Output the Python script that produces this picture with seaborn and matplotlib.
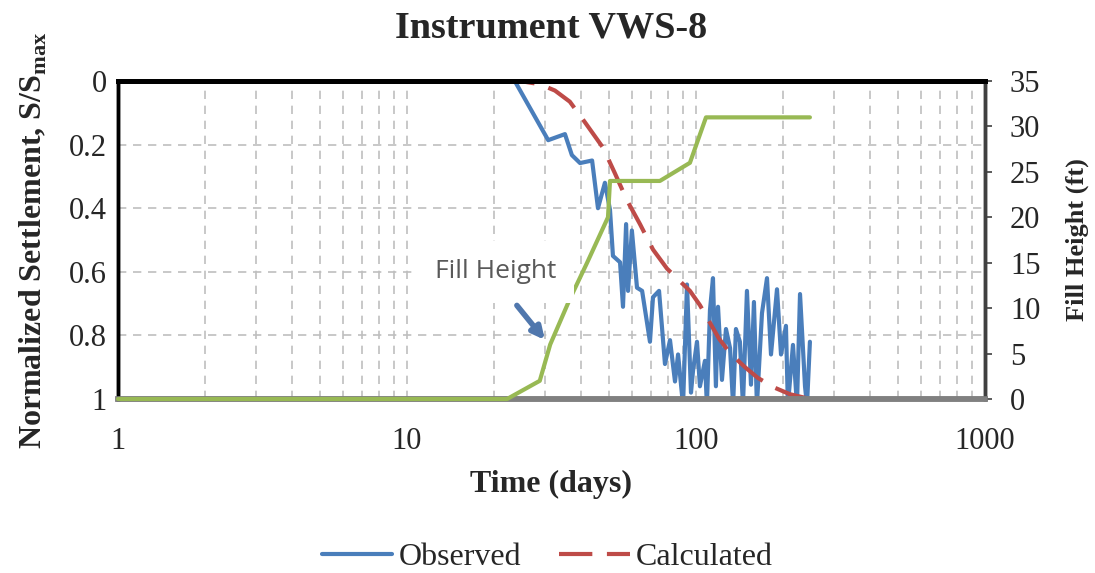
import numpy as np
import pandas as pd
import seaborn as sns
import matplotlib.pyplot as plt
from matplotlib.ticker import LogLocator, NullFormatter

# observed settlement (days, S/Smax)
obs_days = [1, 23.6, 30.8, 35.2, 37.2, 39.7, 43.7, 45.8, 48.4, 50.4, 51.6, 54.6, 55.9, 57.3,
            58.2, 60.0, 62.5, 65.1, 69.3, 71.0, 74.5, 78.1, 81.3, 84.6, 86.7, 90.2, 93.1,
            96.1, 97.7, 100.8, 103.2, 107.4, 109.1, 111.8, 114.5, 117.2, 119.2, 123.0,
            127.0, 131.2, 134.4, 137.5, 141.9, 145.4, 150.1, 155.0, 158.7, 162.5, 169.2,
            176.1, 181.8, 190.7, 196.9, 204.8, 208.0, 216.6, 223.6, 229.1, 238.4, 242.2, 247.9]
obs_s = [0, 0, 0.186, 0.167, 0.233, 0.258, 0.25, 0.40, 0.32, 0.405, 0.55, 0.57, 0.71, 0.45,
         0.66, 0.47, 0.65, 0.66, 0.82, 0.68, 0.66, 0.89, 0.815, 0.945, 0.86, 1.02, 0.64,
         0.98, 0.91, 0.82, 0.96, 0.88, 1.02, 0.72, 0.62, 0.96, 0.71, 0.94,
         0.78, 0.84, 1.02, 0.78, 0.82, 1.02, 0.66, 0.955, 0.695, 1.02, 0.73,
         0.62, 0.86, 0.655, 0.86, 0.77, 1.02, 0.83, 1.02, 0.67, 0.96, 1.02, 0.82]

# calculated settlement
calc_days = [1, 24.6, 28.8, 32.5, 36.6, 41.3, 47.7, 52.4, 57.7, 64.0, 71.0, 79.4, 88.1,
             95.3, 103.2, 120.1, 131.2, 147.8, 163.9, 187.7, 211.4, 247.9]
calc_s = [0, 0, 0.01, 0.03, 0.065, 0.13, 0.21, 0.29, 0.375, 0.45, 0.53, 0.59, 0.63,
          0.66, 0.705, 0.81, 0.856, 0.9, 0.934, 0.965, 0.985, 1.0]

# fill height (ft)
fill_days = [1, 22.2, 28.8, 31.3, 36.6, 42.0, 49.6, 50.4, 75.0, 95.3, 108.3, 247.9]
fill_ft = [0, 0, 2, 6, 11, 15, 20, 24, 24, 26, 31, 31]

sns.set_style('white')
plt.rcParams['font.family'] = ['Liberation Serif', 'DejaVu Serif']
plt.rcParams['mathtext.fontset'] = 'custom'
plt.rcParams['mathtext.rm'] = 'Liberation Serif:bold'
plt.rcParams['mathtext.bf'] = 'Liberation Serif:bold'

blue = '#4A7EBB'
red = '#BE4B48'
green = '#98B954'

fig, ax = plt.subplots(figsize=(10.95, 5.73), dpi=100)
fig.subplots_adjust(left=0.1078, right=0.8995, top=0.8586, bottom=0.3037)

sns.lineplot(x=obs_days, y=obs_s, ax=ax, color=blue, lw=3, label='Observed',
             estimator=None, sort=False)
sns.lineplot(x=calc_days, y=calc_s, ax=ax, color=red, lw=3, label='Calculated',
             estimator=None, sort=False, linestyle=(0, (8, 3.5)))

ax.set_xscale('log')
ax.set_xlim(1, 1000)
ax.set_ylim(1, 0)
ax.set_yticks([0, 0.2, 0.4, 0.6, 0.8, 1])
ax.set_yticklabels(['0', '0.2', '0.4', '0.6', '0.8', '1'])
ax.set_xticks([1, 10, 100, 1000])
ax.set_xticklabels(['1', '10', '100', '1000'])
ax.xaxis.set_minor_locator(LogLocator(base=10, subs=np.arange(2, 10)))
ax.xaxis.set_minor_formatter(NullFormatter())
ax.tick_params(axis='both', which='both', length=0, labelsize=22)
ax.tick_params(axis='x', pad=20)
ax.tick_params(axis='y', pad=8)
ax.grid(True, which='both', axis='x', color='#BFBFBF', linestyle=(0, (5, 4)), lw=1.2)
ax.grid(True, which='major', axis='y', color='#BFBFBF', linestyle=(0, (5, 4)), lw=1.2)

ax.set_xlabel('Time (days)', fontsize=23, fontweight='bold', labelpad=10)
ax.set_ylabel(r'Normalized Settlement, S/S$_{\mathbf{max}}$', fontsize=23,
              fontweight='bold', labelpad=14)
ax.set_title('Instrument VWS-8', fontsize=27.5, fontweight='bold', pad=31)

ax2 = ax.twinx()
sns.lineplot(x=fill_days, y=fill_ft, ax=ax2, color=green, lw=3, estimator=None,
             sort=False, legend=False)
for ln in ax2.get_lines():
    ln.set_zorder(3)
    ln.set_clip_on(False)
ax2.set_ylim(0, 35)
ax2.set_yticks(range(0, 36, 5))
ax2.tick_params(axis='y', length=5, width=1.2, color='#404040', labelsize=22, pad=13)
ax2.set_ylabel('Fill Height (ft)', fontsize=19, fontweight='bold', labelpad=18)

for a in (ax, ax2):
    a.spines['top'].set_color('black')
    a.spines['top'].set_linewidth(3.5)
    a.spines['left'].set_color('black')
    a.spines['left'].set_linewidth(2.5)
    a.spines['bottom'].set_color('#808080')
    a.spines['bottom'].set_linewidth(4)
    a.spines['right'].set_color('#404040')
    a.spines['right'].set_linewidth(2.5)

# annotation for the fill height curve
ax2.text(20.2, 14.0, 'Fill Height', fontsize=19, color='#595959',
         family=['Open Sans', 'DejaVu Sans'], ha='center', va='center', zorder=4,
         bbox=dict(boxstyle='square,pad=0.7', fc='white', ec='none'))
ax2.annotate('', xy=(30.0, 6.5), xytext=(24.0, 10.3), zorder=4,
             arrowprops=dict(arrowstyle='-|>', color='#5077AD', lw=4,
                             mutation_scale=18, shrinkA=0, shrinkB=0))

handles, labels = ax.get_legend_handles_labels()
ax.get_legend().remove()
fig.legend(handles, labels, loc='center', ncol=2, frameon=False, fontsize=23,
           bbox_to_anchor=(0.5, 0.027), handlelength=2.2, columnspacing=1.2,
           handletextpad=0.2)

plt.savefig('out.png', dpi=100)
